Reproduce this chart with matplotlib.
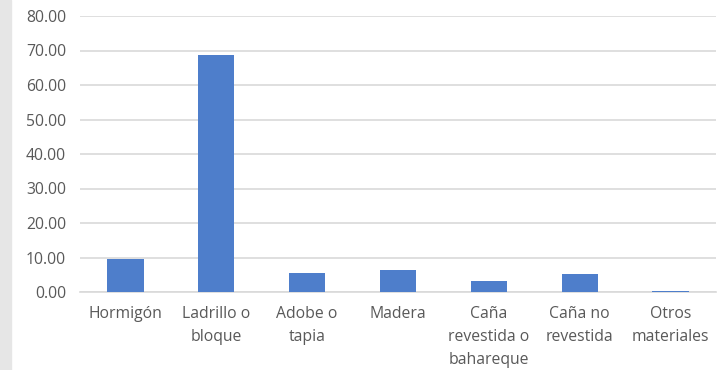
import matplotlib.pyplot as plt
from matplotlib.patches import Rectangle

# Material predominante de las paredes (%)
categorias = ["Hormigón", "Ladrillo o\nbloque", "Adobe o\ntapia", "Madera",
              "Caña\nrevestida o\nbahareque", "Caña no\nrevestida", "Otros\nmateriales"]
porcentajes = [9.5, 68.8, 5.4, 6.5, 3.3, 5.1, 0.2]
ticks_y = [0, 10, 20, 30, 40, 50, 60, 70, 80]

plt.rcParams['font.family'] = ['Open Sans', 'DejaVu Sans']

fig = plt.figure(figsize=(7.19, 3.70), dpi=100)
fig.patches.append(Rectangle((0, 0), 11 / 719, 1, transform=fig.transFigure,
                             color="#e6e6e6", zorder=0))
ax = fig.add_axes([80 / 719, (370 - 292) / 370, 636 / 719, 276 / 370])

x = range(len(categorias))
ax.bar(x, porcentajes, width=0.4, color="#4e7ecb", zorder=3)

ax.set_xlim(-0.5, len(categorias) - 0.5)
ax.set_ylim(0, 80)
ax.set_yticks(ticks_y)
ax.set_yticklabels([f"{v:.2f}" for v in ticks_y])
ax.set_xticks(list(x))
ax.set_xticklabels(categorias, linespacing=1.58, va="top")

ax.yaxis.grid(True, color="#d9d9d9", linewidth=1.2, zorder=0)
for s in ["top", "right", "left"]:
    ax.spines[s].set_visible(False)
ax.spines["bottom"].set_color("#d9d9d9")
ax.spines["bottom"].set_linewidth(1.2)
ax.tick_params(axis="both", length=0, labelsize=11.3, colors="#595959")
ax.tick_params(axis="y", pad=10)
ax.tick_params(axis="x", pad=10)

fig.savefig("out.png", dpi=100)
